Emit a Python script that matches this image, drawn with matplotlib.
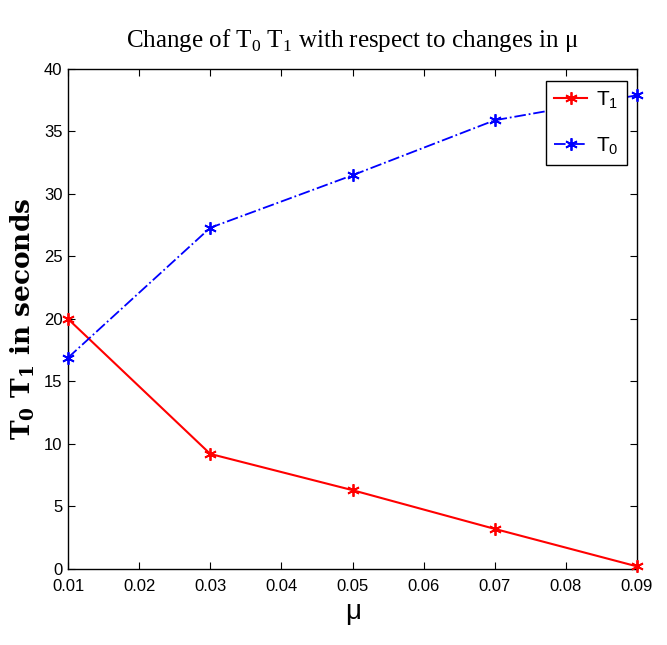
import matplotlib.pyplot as plt
from matplotlib import font_manager

# mu values and the two times (seconds)
mu = [0.01, 0.03, 0.05, 0.07, 0.09]
t1 = [20.0, 9.2, 6.3, 3.2, 0.2]
t0 = [16.9, 27.3, 31.5, 35.9, 37.9]
xticks = [0.01, 0.02, 0.03, 0.04, 0.05, 0.06, 0.07, 0.08, 0.09]
yticks = [0, 5, 10, 15, 20, 25, 30, 35, 40]

installed = {f.name for f in font_manager.fontManager.ttflist}
narrow = 'Liberation Sans Narrow' if 'Liberation Sans Narrow' in installed else 'Liberation Sans'

fig = plt.figure(figsize=(6.67, 6.45), dpi=100)
ax = fig.add_axes([0.102, 0.118, 0.853, 0.775])

ax.plot(mu, t1, color='red', linestyle='-', linewidth=1.5,
        marker=(6, 2, 0), markersize=9, markeredgewidth=1.3,
        label=r'T$_\mathregular{1}$', clip_on=False, zorder=3)
ax.plot(mu, t0, color='blue', linestyle='-.', linewidth=1.3,
        marker=(6, 2, 0), markersize=9, markeredgewidth=1.3,
        label=r'T$_\mathregular{0}$', clip_on=False, zorder=3)

ax.set_xlim(0.01, 0.09)
ax.set_ylim(0, 40)
ax.set_xticks(xticks)
ax.set_yticks(yticks)
ax.set_xticklabels(['%.2f' % v for v in xticks])
for lbl in ax.get_xticklabels() + ax.get_yticklabels():
    lbl.set_fontfamily(narrow)
    lbl.set_fontsize(12)
ax.tick_params(direction='in', length=5, width=0.8, top=True, right=True, pad=4)
ax.tick_params(axis='x', pad=7)
for sp in ax.spines.values():
    sp.set_linewidth(1.0)

ax.set_title(r'Change of T$_\mathregular{0}$ T$_\mathregular{1}$ with respect to changes in $\mathregular{\mu}$',
             fontfamily='Liberation Serif', fontsize=18, pad=16)
ax.set_xlabel(r'$\mathregular{\mu}$', fontfamily='Liberation Sans', fontsize=20, labelpad=5)
ax.set_ylabel(r'T$_{\mathregular{0}}$ T$_{\mathregular{1}}$ in seconds',
              fontfamily='DejaVu Serif', fontweight='bold', fontsize=19, labelpad=5)

leg = ax.legend(loc='upper right', bbox_to_anchor=(0.982, 0.976), borderaxespad=0,
                fancybox=False, edgecolor='black', framealpha=1, borderpad=0.4,
                handlelength=1.6, handletextpad=0.4, labelspacing=1.15,
                prop={'family': 'Liberation Sans', 'size': 15})
leg.get_frame().set_linewidth(1.0)

fig.savefig('out.png', dpi=100)
